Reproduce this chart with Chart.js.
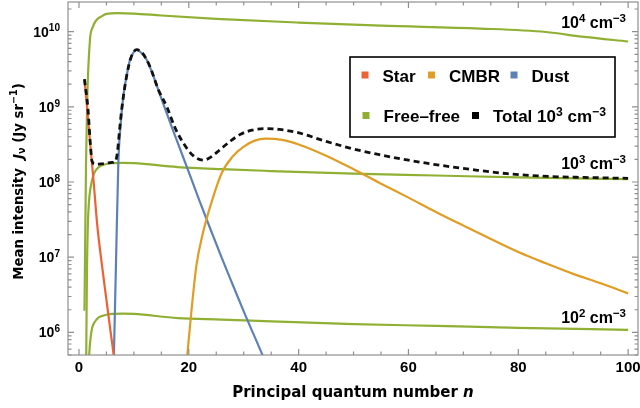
<!DOCTYPE html>
<html>
<head>
<meta charset="utf-8">
<script src="https://cdn.jsdelivr.net/npm/chart.js@4.4.1/dist/chart.umd.min.js"></script>
<style>
  html, body { margin: 0; padding: 0; background: #fff; }
  #wrap { width: 640px; height: 408px; }
</style>
</head>
<body>
<div id="wrap"><canvas id="intensityChart"></canvas></div>
<script>
// Mean intensity J_nu seen by each level n, split by radiation source

// Star
const starN = [1, 1.5, 2, 2.67, 3.3, 4, 5, 5.77, 6.8];
const starJ = [2.3e9, 9.3e8, 3.5e8, 1.0e8, 2.8e7, 1.0e7, 2.7e6, 1.0e6, 2.8e5];

// CMBR
const cmbrN = [19.6, 20.5, 21.4, 22.5, 24, 26, 28, 30, 32, 34, 37, 40, 45, 50, 55, 60, 65, 70, 75, 80, 85, 90, 95, 100];
const cmbrJ = [4.0e5, 2.0e6, 7.9e6, 2.0e7, 5.0e7, 1.32e8, 2.19e8, 2.95e8, 3.55e8, 3.78e8, 3.63e8, 3.16e8,
               2.24e8, 1.48e8, 9.5e7, 6.2e7, 4.0e7, 2.63e7, 1.74e7, 1.17e7, 8.3e6, 6.0e6, 4.5e6, 3.3e6];

// Dust
const dustN = [6.3, 6.74, 7.17, 7.6, 8.07, 8.7, 9.3, 10, 10.5, 11.2, 12.3, 13.5, 14.75, 16, 17.8, 20, 22, 24, 26, 28, 30, 32, 34];
const dustJ = [3.2e5, 8.3e6, 1.82e8, 6.0e8, 1.38e9, 2.63e9, 4.27e9, 5.37e9, 5.7e9, 5.37e9, 4.27e9, 2.63e9,
               1.45e9, 8.1e8, 3.6e8, 1.35e8, 5.5e7, 2.3e7, 9.8e6, 4.3e6, 1.9e6, 8.7e5, 4.0e5];

// Free-free for electron densities 1e4, 1e3, 1e2 cm^-3
const ff4N = [1, 1.28, 1.5, 2, 2.5, 3.2, 4, 5, 7, 10, 15, 25, 40, 55, 73, 85, 92, 100];
const ff4J = [1.94e6, 1.7e8, 1.26e9, 7.8e9, 1.15e10, 1.43e10, 1.58e10, 1.72e10, 1.76e10, 1.74e10, 1.64e10,
              1.48e10, 1.32e10, 1.2e10, 1.1e10, 9.9e9, 8.5e9, 7.4e9];
const ff3N = [1.3, 1.45, 1.6, 1.8, 2.1, 2.5, 3, 3.6, 4.5, 6, 8, 10, 18, 26, 35, 50, 65, 80, 100];
const ff3J = [3.2e5, 6.3e6, 2.5e7, 5.25e7, 8.3e7, 1.15e8, 1.41e8, 1.58e8, 1.7e8, 1.78e8, 1.8e8, 1.78e8,
              1.58e8, 1.48e8, 1.4e8, 1.29e8, 1.22e8, 1.15e8, 1.09e8];
const ff2N = [1.75, 1.9, 2.1, 2.4, 2.8, 3.2, 3.6, 4.5, 6, 8, 10, 18, 26, 35, 50, 65, 80, 100];
const ff2J = [3.2e5, 5.6e5, 8.3e5, 1.15e6, 1.35e6, 1.48e6, 1.58e6, 1.68e6, 1.76e6, 1.78e6, 1.76e6,
              1.55e6, 1.48e6, 1.4e6, 1.29e6, 1.22e6, 1.15e6, 1.08e6];

// Total for 1e3 cm^-3
const totalN = [1, 1.64, 2.06, 2.37, 2.97, 4, 5, 6, 6.6, 7.0, 7.4, 7.8, 8.7, 9.5, 10.5, 11.5, 12.9, 14.5, 16,
                17.5, 19, 20.8, 22.6, 24, 25.7, 27.5, 29.3, 31.5, 33.9, 36.5, 39.7, 45, 50, 55, 60, 66,
                72, 78, 84, 92, 100];
const totalJ = [2.34e9, 9.3e8, 3.3e8, 1.9e8, 1.72e8, 1.74e8, 1.78e8, 1.82e8, 1.86e8, 2.5e8, 5.0e8, 9.5e8,
                2.63e9, 4.57e9, 5.75e9, 5.25e9, 3.47e9, 1.66e9, 1.0e9, 5.25e8, 3.3e8, 2.24e8, 1.95e8,
                2.14e8, 2.7e8, 3.47e8, 4.27e8, 4.9e8, 5.13e8, 5.0e8, 4.57e8, 3.47e8, 2.75e8, 2.29e8, 1.95e8,
                1.66e8, 1.45e8, 1.29e8, 1.2e8, 1.15e8, 1.12e8];

const xTickValues = [0, 20, 40, 60, 80, 100];
const yDecades = [6, 7, 8, 9, 10];
const densityLabels = ['4', '3', '2'];

const RED = '#EB6235', ORANGE = '#E19C24', BLUE = '#5E81B5', GREEN = '#8FB032';
const SANS = '"Liberation Sans", Arial, sans-serif';
const TITLE = '"DejaVu Sans", Verdana, sans-serif';

const toXY = (xs, ys) => xs.map((x, i) => ({ x: x, y: ys[i] }));

function line(label, xs, ys, color, extra) {
  return Object.assign({
    label: label,
    data: toXY(xs, ys),
    borderColor: color,
    backgroundColor: color,
    borderWidth: 2.2,
    pointRadius: 0,
    cubicInterpolationMode: 'monotone',
    clip: 0,
    order: 1
  }, extra || {});
}

// rich text: parts are {t, sup, sub, it}
function partFont(p, size, family) {
  const s = (p.sup || p.sub) ? size * 0.72 : size;
  return (p.it ? 'italic ' : '') + 'bold ' + s.toFixed(1) + 'px ' + family;
}
function richWidth(ctx, parts, size, family) {
  let w = 0;
  parts.forEach(p => { ctx.font = partFont(p, size, family); w += ctx.measureText(p.t).width; });
  return w;
}
function drawRich(ctx, parts, x, y, size, family, align) {
  const w = richWidth(ctx, parts, size, family);
  let cx = align === 'right' ? x - w : align === 'center' ? x - w / 2 : x;
  ctx.textAlign = 'left';
  ctx.textBaseline = 'alphabetic';
  parts.forEach(p => {
    ctx.font = partFont(p, size, family);
    const dy = p.sup ? -size * 0.38 : p.sub ? size * 0.22 : 0;
    ctx.fillText(p.t, cx, y + dy);
    cx += ctx.measureText(p.t).width;
  });
}

const legendRows = [
  [{ color: RED, x: 365, parts: [{ t: 'Star' }] },
   { color: ORANGE, x: 431.5, parts: [{ t: 'CMBR' }] },
   { color: BLUE, x: 514, parts: [{ t: 'Dust' }] }],
  [{ color: GREEN, x: 366, parts: [{ t: 'Free–free' }] },
   { color: '#000', x: 475.5, parts: [{ t: 'Total 10' }, { t: '3', sup: true }, { t: ' cm' }, { t: '−3', sup: true }] }]
];

const framePlugin = {
  id: 'frame',
  afterDatasetsDraw(chart) {
    const { ctx, chartArea: a, scales: { x, y } } = chart;
    ctx.save();

    // frame with inward ticks on all four sides
    ctx.strokeStyle = '#8f8f8f';
    ctx.lineWidth = 1.2;
    ctx.strokeRect(a.left, a.top, a.right - a.left, a.bottom - a.top);
    ctx.beginPath();
    x.ticks.forEach(t => {
      const px = x.getPixelForValue(t.value);
      const len = t.value % 20 === 0 ? 6 : 3.5;
      ctx.moveTo(px, a.bottom); ctx.lineTo(px, a.bottom - len);
      ctx.moveTo(px, a.top); ctx.lineTo(px, a.top + len);
    });
    y.ticks.forEach(t => {
      const py = y.getPixelForValue(t.value);
      const lg = Math.log10(t.value);
      const len = Math.abs(lg - Math.round(lg)) < 1e-6 ? 6 : 3.5;
      ctx.moveTo(a.left, py); ctx.lineTo(a.left + len, py);
      ctx.moveTo(a.right, py); ctx.lineTo(a.right - len, py);
    });
    ctx.stroke();

    ctx.fillStyle = '#000';
    // y tick labels as powers of ten
    yDecades.forEach(d => {
      const py = y.getPixelForValue(Math.pow(10, d));
      drawRich(ctx, [{ t: '10' }, { t: String(d), sup: true }], a.left - 8, py + 5, 14, SANS, 'right');
    });

    // axis titles
    drawRich(ctx, [{ t: 'Principal quantum number ' }, { t: 'n', it: true }],
      (a.left + a.right) / 2, 397, 15, TITLE, 'center');
    ctx.save();
    ctx.translate(22.5, 181.5);
    ctx.rotate(-Math.PI / 2);
    drawRich(ctx, [{ t: 'Mean intensity  ' }, { t: 'J', it: true }, { t: 'ν', sub: true },
      { t: ' (Jy sr' }, { t: '−1', sup: true }, { t: ')' }], 0, 0, 13.3, TITLE, 'center');
    ctx.restore();

    // density labels above the end of each free-free curve
    [3, 4, 5].forEach((di, k) => {
      const pts = chart.data.datasets[di].data;
      const last = pts[pts.length - 1];
      const py = y.getPixelForValue(last.y);
      const off = [13, 10, 7][k];
      drawRich(ctx, [{ t: '10' }, { t: densityLabels[k], sup: true }, { t: ' cm' }, { t: '−3', sup: true }],
        a.right - 12, py - off, 16, SANS, 'right');
    });

    // legend box
    const bx = 350, by = 57, bw = 265, bh = 80;
    ctx.fillStyle = '#fff';
    ctx.fillRect(bx, by, bw, bh);
    ctx.strokeStyle = '#000';
    ctx.lineWidth = 1.6;
    ctx.strokeRect(bx, by, bw, bh);
    legendRows.forEach((row, r) => {
      const cy = r === 0 ? 75 : 115.5;
      row.forEach(item => {
        ctx.fillStyle = item.color;
        ctx.fillRect(item.x - 3.5, cy - 3.5, 7, 7);
        ctx.fillStyle = '#000';
        drawRich(ctx, item.parts, item.x + 17.5, cy + 6.5, 17, SANS, 'left');
      });
    });
    ctx.restore();
  }
};

const ctx = document.getElementById('intensityChart').getContext('2d');
const intensityChart = new Chart(ctx, {
  type: 'line',
  data: {
    datasets: [
      line('Star', starN, starJ, RED),
      line('CMBR', cmbrN, cmbrJ, ORANGE),
      line('Dust', dustN, dustJ, BLUE),
      line('Free–free 1e4', ff4N, ff4J, GREEN),
      line('Free–free 1e3', ff3N, ff3J, GREEN),
      line('Free–free 1e2', ff2N, ff2J, GREEN),
      line('Total 1e3', totalN, totalJ, '#111', { borderWidth: 2.8, borderDash: [6, 4], order: 0 })
    ]
  },
  options: {
    responsive: true,
    maintainAspectRatio: false,
    animation: false,
    layout: { padding: { top: 2, right: 2, left: 0, bottom: 0 } },
    plugins: {
      legend: { display: false },
      tooltip: { enabled: false }
    },
    scales: {
      x: {
        type: 'linear',
        min: -2,
        max: 101.8,
        afterBuildTicks: scale => {
          const t = [];
          for (let v = 0; v <= 100; v += 5) t.push({ value: v });
          scale.ticks = t;
        },
        afterFit: scale => {
          scale.height = 53;
          scale.paddingLeft = 0;
          scale.paddingRight = 0;
        },
        grid: { display: false, drawTicks: false, tickLength: 0 },
        border: { display: false },
        ticks: {
          autoSkip: false,
          maxRotation: 0,
          padding: 4,
          color: '#000',
          font: { family: SANS, size: 15, weight: 'bold' },
          callback: v => (xTickValues.includes(v) ? String(v) : '')
        }
      },
      y: {
        type: 'logarithmic',
        min: 5e5,
        max: 2.48e10,
        afterBuildTicks: scale => {
          const t = [];
          for (let d = 5; d <= 10; d++) {
            for (let m = 1; m <= 9; m++) {
              const v = m * Math.pow(10, d);
              if (v >= 5e5 && v <= 2.48e10) t.push({ value: v });
            }
          }
          scale.ticks = t;
        },
        afterFit: scale => { scale.width = 68; },
        grid: { display: false },
        border: { display: false },
        ticks: { display: false }
      }
    }
  },
  plugins: [framePlugin]
});
</script>
</body>
</html>
